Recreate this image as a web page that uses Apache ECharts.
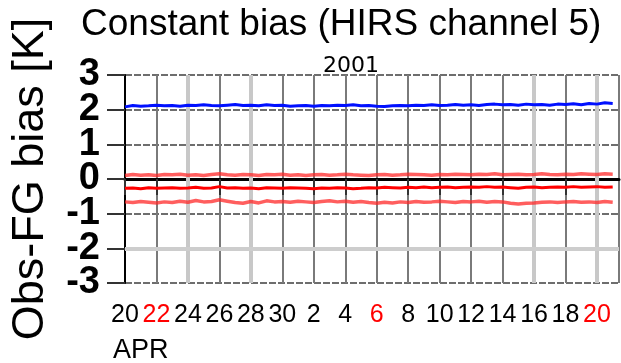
<!DOCTYPE html>
<html>
<head>
<meta charset="utf-8">
<script src="https://cdn.jsdelivr.net/npm/echarts@6/dist/echarts.min.js"></script>
<style>
  html, body { margin: 0; padding: 0; background: #fff; }
  #chart { width: 621px; height: 363px; }
</style>
</head>
<body>
<div id="chart"></div>
<script>
// day labels under the x axis, one every 2 days starting Apr 20
const tickLabels = ["20", "22", "24", "26", "28", "30", "2", "4", "6", "8", "10", "12", "14", "16", "18", "20"];
const redTickIdx = [1, 8, 15];
// days (from Apr 20) where the grid line is drawn light grey
const lightDays = [4, 8, 26, 30];

// half-daily samples, first one at Apr 20 00z
const sampleStep = 0.5;
const blueBias = [2.08, 2.12, 2.10, 2.11, 2.13, 2.11, 2.12, 2.10, 2.13, 2.12, 2.14, 2.12, 2.11, 2.13, 2.15, 2.12,
  2.13, 2.11, 2.14, 2.12, 2.13, 2.10, 2.11, 2.12, 2.10, 2.12, 2.11, 2.13, 2.12, 2.14, 2.11, 2.12,
  2.10, 2.09, 2.11, 2.12, 2.11, 2.13, 2.12, 2.14, 2.12, 2.13, 2.15, 2.13, 2.14, 2.12, 2.15, 2.16,
  2.14, 2.15, 2.13, 2.16, 2.14, 2.15, 2.13, 2.16, 2.15, 2.17, 2.14, 2.18, 2.16, 2.20, 2.18];
const redMean = [-0.27, -0.26, -0.28, -0.25, -0.27, -0.26, -0.25, -0.27, -0.26, -0.24, -0.27, -0.26, -0.22, -0.26, -0.25, -0.27,
  -0.26, -0.28, -0.25, -0.26, -0.27, -0.25, -0.26, -0.27, -0.28, -0.26, -0.27, -0.25, -0.26, -0.28, -0.27, -0.25,
  -0.26, -0.24, -0.25, -0.26, -0.24, -0.25, -0.23, -0.25, -0.24, -0.23, -0.25, -0.24, -0.23, -0.24, -0.22, -0.24,
  -0.23, -0.25, -0.27, -0.24, -0.23, -0.25, -0.24, -0.23, -0.24, -0.22, -0.24, -0.23, -0.22, -0.24, -0.23];
const redUpper = [0.10, 0.13, 0.11, 0.12, 0.10, 0.13, 0.12, 0.14, 0.11, 0.12, 0.10, 0.13, 0.15, 0.12, 0.11, 0.13,
  0.12, 0.10, 0.13, 0.12, 0.14, 0.11, 0.12, 0.10, 0.12, 0.13, 0.11, 0.12, 0.14, 0.12, 0.11, 0.10,
  0.12, 0.13, 0.11, 0.12, 0.14, 0.13, 0.12, 0.11, 0.13, 0.12, 0.14, 0.13, 0.12, 0.14, 0.13, 0.15,
  0.12, 0.13, 0.14, 0.12, 0.13, 0.15, 0.13, 0.12, 0.14, 0.13, 0.15, 0.14, 0.13, 0.15, 0.14];
const redLower = [-0.66, -0.68, -0.65, -0.67, -0.69, -0.66, -0.68, -0.64, -0.67, -0.62, -0.66, -0.65, -0.60, -0.64, -0.68, -0.70,
  -0.65, -0.69, -0.63, -0.66, -0.65, -0.67, -0.64, -0.66, -0.68, -0.65, -0.63, -0.66, -0.64, -0.67, -0.65, -0.68,
  -0.70, -0.67, -0.69, -0.66, -0.68, -0.65, -0.67, -0.66, -0.64, -0.66, -0.68, -0.65, -0.66, -0.64, -0.67, -0.65,
  -0.66, -0.70, -0.72, -0.70, -0.69, -0.67, -0.66, -0.68, -0.66, -0.65, -0.67, -0.66, -0.68, -0.65, -0.67];

const lastDay = 31.4;
const toPairs = (arr) => arr.map((v, i) => [i * sampleStep, v]);

const chart = echarts.init(document.getElementById("chart"));

const yLabelStyle = {
  margin: 25,
  fontFamily: "Liberation Sans",
  fontWeight: "bold",
  fontSize: 38,
  color: "#000"
};

const lineSeries = (name, data, color, width, opacity) => ({
  name,
  type: "line",
  data: toPairs(data),
  showSymbol: false,
  silent: true,
  lineStyle: { color, width, opacity },
  emphasis: { disabled: true },
  z: 5
});

chart.setOption({
  animation: false,
  title: {
    text: "Constant bias (HIRS channel 5)",
    left: 81,
    top: 6,
    padding: 0,
    textStyle: {
      fontFamily: "Liberation Sans",
      fontSize: 37,
      fontWeight: "normal",
      color: "#000"
    }
  },
  grid: { left: 125, right: 2, top: 75, bottom: 80 },
  xAxis: {
    type: "value",
    min: 0,
    max: lastDay,
    interval: 2,
    axisLine: { show: true, lineStyle: { color: "#000", width: 3 } },
    axisTick: { show: true, inside: false, length: 16, lineStyle: { color: "#333", width: 2 } },
    axisLabel: {
      margin: 20,
      fontFamily: "Liberation Sans",
      fontSize: 25,
      color: "#000",
      showMaxLabel: false,
      formatter: (v) => {
        const i = Math.round(v / 2);
        if (Math.abs(v - i * 2) > 1e-6 || i >= tickLabels.length) return "";
        return redTickIdx.includes(i) ? "{r|" + tickLabels[i] + "}" : tickLabels[i];
      },
      rich: { r: { color: "#ff0000", fontFamily: "Liberation Sans", fontSize: 25 } }
    },
    splitLine: { show: true, lineStyle: { color: "#7a7a7a", width: 2 } }
  },
  yAxis: [
    {
      // main axis: lines, ticks, grid and the even labels
      type: "value",
      min: -3,
      max: 3,
      interval: 1,
      name: "Obs-FG bias [K]",
      nameLocation: "middle",
      nameGap: 72,
      nameTextStyle: { fontFamily: "Liberation Sans", fontSize: 45, color: "#000" },
      axisLine: { show: true, lineStyle: { color: "#000", width: 2 } },
      axisTick: { show: true, length: 18, lineStyle: { color: "#333", width: 2 } },
      axisLabel: {
        ...yLabelStyle,
        formatter: (v) => (Math.abs(v) % 2 === 0 ? String(v) : "")
      },
      splitLine: { show: true, lineStyle: { color: "#6e6e6e", width: 2, type: [7, 2] } }
    },
    {
      // odd labels only, counted from -3 in steps of 2
      type: "value",
      position: "left",
      min: -3,
      max: 3,
      interval: 2,
      axisLine: { show: false },
      axisTick: { show: false },
      splitLine: { show: false },
      axisLabel: { ...yLabelStyle, showMinLabel: true, showMaxLabel: true }
    }
  ],
  graphic: [
    {
      type: "text",
      x: 351,
      y: 66,
      style: {
        text: "2001",
        fontFamily: "DejaVu Sans",
        fontSize: 22,
        fill: "#000",
        align: "center",
        verticalAlign: "middle"
      }
    },
    {
      type: "text",
      x: 113,
      y: 351,
      style: {
        text: "APR",
        fontFamily: "Liberation Sans",
        fontSize: 27,
        fill: "#000",
        align: "left",
        verticalAlign: "middle"
      }
    }
  ],
  series: [
    {
      type: "line",
      data: [],
      silent: true,
      z: 1,
      markLine: {
        silent: true,
        symbol: "none",
        label: { show: false },
        animation: false,
        data: [
          ...lightDays.map((d) => ({ xAxis: d, lineStyle: { color: "#c8c8c8", width: 4, type: "solid" } })),
          { yAxis: -2, lineStyle: { color: "#cdcdcd", width: 4, type: "solid" } }
        ]
      }
    },
    lineSeries("upper", redUpper, "#ff2828", 3.5, 0.75),
    lineSeries("lower", redLower, "#ff2828", 3.5, 0.75),
    lineSeries("mean", redMean, "#ff0000", 3, 1),
    lineSeries("blue", blueBias, "#0010ff", 3, 1)
  ]
});
</script>
</body>
</html>
